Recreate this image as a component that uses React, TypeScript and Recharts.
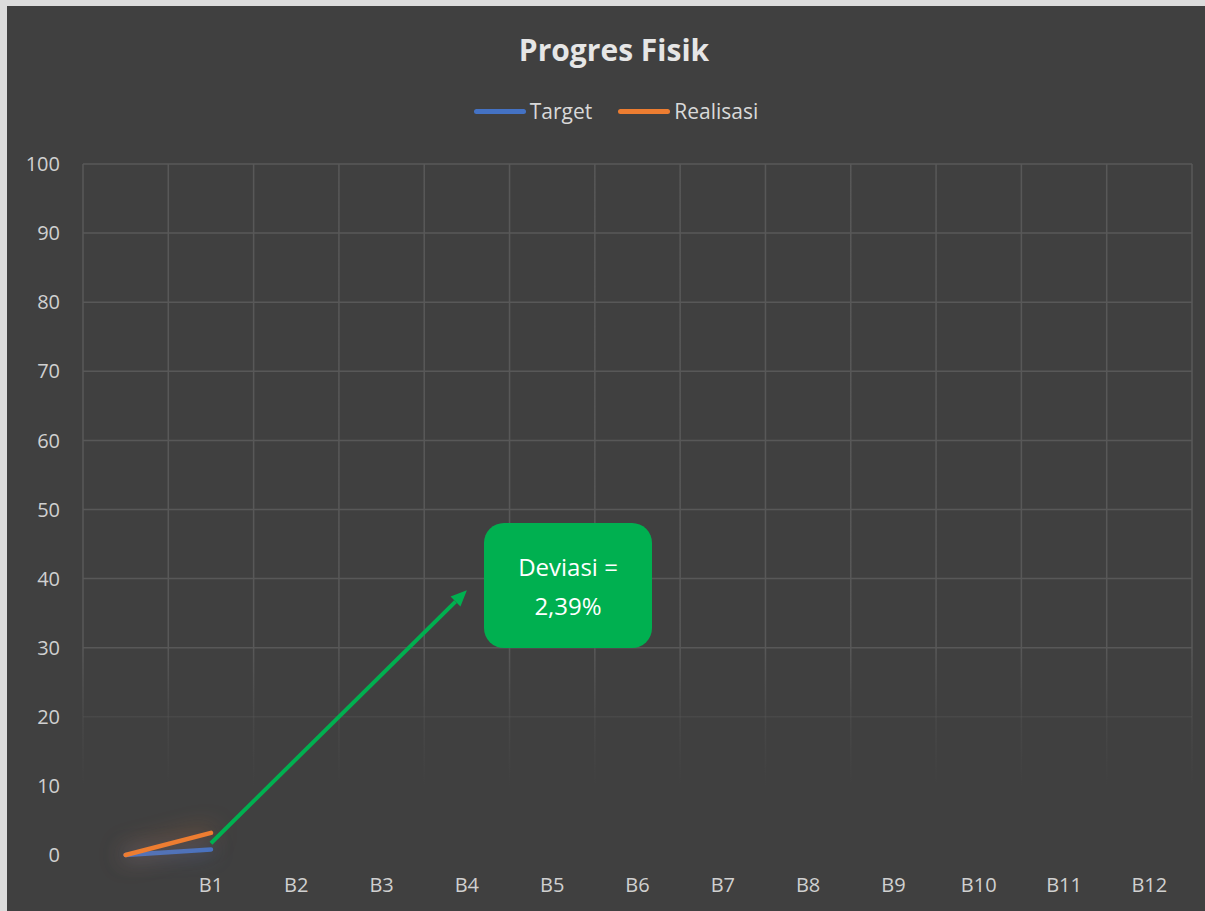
import React from 'react';
import { LineChart, Line, XAxis, YAxis, CartesianGrid, Legend, ReferenceLine } from 'recharts';

const categories = ['', 'B1', 'B2', 'B3', 'B4', 'B5', 'B6', 'B7', 'B8', 'B9', 'B10', 'B11', 'B12'];
const targetValues: (number | null)[] = [0, 0.81, null, null, null, null, null, null, null, null, null, null, null];
const realisasiValues: (number | null)[] = [0, 3.2, null, null, null, null, null, null, null, null, null, null, null];
const seriesNames = ['Target', 'Realisasi'];
const yTicks = [0, 10, 20, 30, 40, 50, 60, 70, 80, 90, 100];

const arrowFrom = { x: 'B1', y: 1.7 };
const arrowTo = { x: 'B4', y: 38.3 };

const FONT = '"Open Sans", "Noto Sans", sans-serif';
const W = 1198;
const H = 905;
const MARGIN = { top: 158, right: 13, left: 0, bottom: 0 };
const PLOT_W = W - 76 - MARGIN.right;
const HALF_BAND = PLOT_W / categories.length / 2;

const data = categories.map((c, i) => ({
  name: c,
  target: targetValues[i],
  realisasi: realisasiValues[i],
}));

const Arrow = (props: any) => {
  const { x1, y1, x2, y2 } = props;
  if (x1 == null || x2 == null) return <g />;
  const ang = Math.atan2(y2 - y1, x2 - x1);
  const len = 16;
  const half = 7;
  const bx = x2 - len * Math.cos(ang);
  const by = y2 - len * Math.sin(ang);
  const px = -Math.sin(ang) * half;
  const py = Math.cos(ang) * half;
  return (
    <g>
      <line x1={x1} y1={y1} x2={bx} y2={by} stroke="#00B050" strokeWidth={4} />
      <polygon points={`${x2},${y2} ${bx + px},${by + py} ${bx - px},${by - py}`} fill="#00B050" />
    </g>
  );
};

const LegendContent = (props: any) => {
  const items = [...(props.payload || [])].sort(
    (a: any, b: any) => seriesNames.indexOf(a.value) - seriesNames.indexOf(b.value)
  );
  return (
    <div style={{ display: 'flex', justifyContent: 'center', alignItems: 'center', fontFamily: FONT, fontSize: 21, color: '#d9d9d9' }}>
      {items.map((p: any, i: number) => (
        <div key={i} style={{ display: 'flex', alignItems: 'center', marginLeft: i ? 26 : 0 }}>
          <span style={{ display: 'inline-block', width: 52, height: 5, borderRadius: 3, background: p.color, marginRight: 4 }} />
          <span>{p.value}</span>
        </div>
      ))}
    </div>
  );
};

export default function App() {
  return (
    <div style={{ position: 'absolute', left: 0, top: 0, width: 1205, height: 911, background: '#dcdcdc', overflow: 'hidden' }}>
      <style>{`
        .glow-blue path { filter: drop-shadow(0 0 10px rgba(68,114,196,0.7)); }
        .glow-orange path { filter: drop-shadow(0 0 12px rgba(237,125,49,0.7)); }
      `}</style>
      <div style={{ position: 'absolute', left: 7, top: 6, width: W, height: H, background: '#404040' }}>
        <div style={{ position: 'absolute', left: 0, top: 23, width: W + 16, textAlign: 'center', fontFamily: FONT, fontWeight: 700, fontSize: 30, color: '#e6e6e6' }}>
          Progres Fisik
        </div>
        <LineChart width={W} height={H} data={data} margin={MARGIN}>
          <defs>
            <linearGradient id="gridFade" gradientUnits="userSpaceOnUse" x1="0" y1="158" x2="0" y2="849">
              <stop offset="0" stopColor="#585858" stopOpacity={1} />
              <stop offset="0.7" stopColor="#585858" stopOpacity={1} />
              <stop offset="0.8" stopColor="#585858" stopOpacity={0.35} />
              <stop offset="0.9" stopColor="#585858" stopOpacity={0} />
              <stop offset="1" stopColor="#585858" stopOpacity={0} />
            </linearGradient>
          </defs>
          <CartesianGrid
            stroke="url(#gridFade)"
            strokeWidth={1.5}
            verticalCoordinatesGenerator={({ offset }: any) =>
              Array.from({ length: categories.length + 1 }, (_, i) => offset.left + (i * offset.width) / categories.length)
            }
          />
          <XAxis
            dataKey="name"
            interval={0}
            axisLine={false}
            tickLine={false}
            tickSize={0}
            tickMargin={23}
            height={56}
            padding={{ left: HALF_BAND, right: HALF_BAND }}
            tick={{ fill: '#d0d0d0', fontSize: 20, fontFamily: FONT }}
          />
          <YAxis
            domain={[0, 100]}
            ticks={yTicks}
            axisLine={false}
            tickLine={false}
            tickSize={0}
            tickMargin={23}
            width={76}
            tick={{ fill: '#d0d0d0', fontSize: 20, fontFamily: FONT }}
          />
          <Legend
            verticalAlign="middle"
            align="center"
            content={<LegendContent />}
            wrapperStyle={{ top: 91, left: 10, width: W, height: 30 }}
          />
          <Line
            className="glow-blue"
            type="linear"
            dataKey="target"
            name="Target"
            stroke="#4472C4"
            strokeWidth={4.5}
            strokeLinecap="round"
            dot={false}
            activeDot={false}
            isAnimationActive={false}
          />
          <Line
            className="glow-orange"
            type="linear"
            dataKey="realisasi"
            name="Realisasi"
            stroke="#ED7D31"
            strokeWidth={4.5}
            strokeLinecap="round"
            dot={false}
            activeDot={false}
            isAnimationActive={false}
          />
          <ReferenceLine segment={[arrowFrom, arrowTo]} ifOverflow="visible" shape={Arrow} />
        </LineChart>
        <div
          style={{
            position: 'absolute',
            left: 477,
            top: 517,
            width: 168,
            height: 125,
            borderRadius: 20,
            background: '#00B050',
            color: '#ffffff',
            fontFamily: FONT,
            fontSize: 24,
            lineHeight: '39px',
            display: 'flex',
            flexDirection: 'column',
            justifyContent: 'center',
            alignItems: 'center',
            textAlign: 'center',
          }}
        >
          <div>Deviasi =</div>
          <div>2,39%</div>
        </div>
      </div>
    </div>
  );
}
